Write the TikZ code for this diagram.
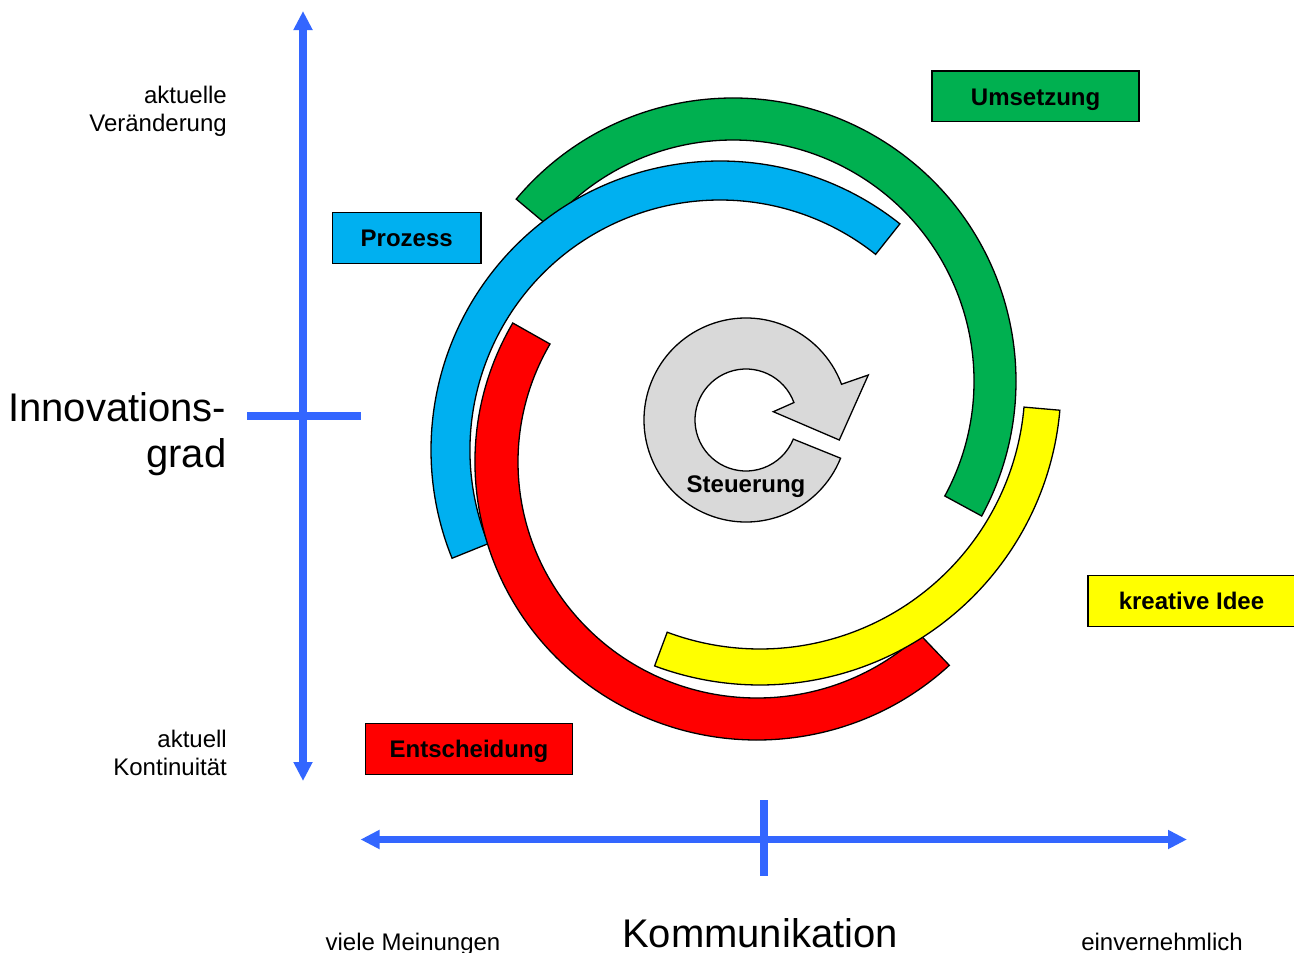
\documentclass[tikz,border=0pt]{standalone}
\usepackage{fontspec}
\setmainfont{Liberation Sans}
\usetikzlibrary{arrows.meta}
\definecolor{axisblue}{HTML}{3366FF}
\definecolor{cgreen}{HTML}{00B050}
\definecolor{cblue}{HTML}{00B0F0}
\definecolor{cred}{HTML}{FF0000}
\definecolor{cyellow}{HTML}{FFFF00}
\definecolor{cgrey}{HTML}{D9D9D9}
\begin{document}
\begin{tikzpicture}[x=1pt,y=1pt,
  arcshape/.style={draw=black, line width=1.3pt, line join=miter},
  box/.style={draw=black, line width=1.3pt, minimum width=207pt, minimum height=50.5pt, inner sep=0pt, text height=20pt, text depth=2.6pt, font=\fontsize{24}{29}\selectfont\bfseries},
  axisline/.style={draw=axisblue, line width=7.5pt},
  lbl/.style={font=\fontsize{24}{28}\selectfont, inner sep=0pt},
  biglbl/.style={font=\fontsize{40}{46}\selectfont, inner sep=0pt}]
\useasboundingbox (0,0) rectangle (1294,-953);

% axes
\coordinate (vtop) at (303,-11);
\coordinate (vbot) at (303,-781);
\coordinate (vcl) at (247,-416);
\coordinate (vcr) at (361,-416);
\draw[axisline, {Triangle[length=19pt,width=18pt]}-{Triangle[length=19pt,width=18pt]}] (vbot) -- (vtop);
\draw[axisline] (vcl) -- (vcr);
\coordinate (hl) at (360.5,-839.5);
\coordinate (hr) at (1187,-839.5);
\coordinate (hct) at (764,-800);
\coordinate (hcb) at (764,-876);
\draw[axisline, {Triangle[length=19pt,width=18pt]}-{Triangle[length=19pt,width=18pt]}] (hl) -- (hr);
\draw[axisline] (hct) -- (hcb);

% arcs
\draw[arcshape, fill=cgreen, shift={(733,-381)}] (140:283) arc[start angle=140, end angle=-28.5, radius=283] -- (-28.5:241) arc[start angle=-28.5, end angle=140, radius=241] -- cycle;
\draw[arcshape, fill=cblue, shift={(720,-450)}] (51.5:289) arc[start angle=51.5, end angle=202, radius=289] -- (202:250) arc[start angle=202, end angle=51.5, radius=250] -- cycle;
\draw[arcshape, fill=cred, shift={(757,-462)}] ({282*cos(150)},{278*sin(150)}) arc[start angle=150, end angle=313, x radius=282, y radius=278] -- ({239*cos(313)},{236*sin(313)}) arc[start angle=313, end angle=150, x radius=239, y radius=236] -- cycle;
\draw[arcshape, fill=cyellow, shift={(760,-384)}] (-5:301) arc[start angle=-5, end angle=-110.5, radius=301] -- (-110.5:265) arc[start angle=-110.5, end angle=-5, radius=265] -- cycle;

% Steuerung circular arrow
\draw[arcshape, fill=cgrey, shift={(746,-420)}] (-22:102) arc[start angle=-22, end angle=-339.5, radius=102] -- (122.3,45) -- (93.3,-20) -- (27.3,8.3) -- (-340:51) arc[start angle=-340, end angle=-22, radius=51] -- cycle;
\node[font=\fontsize{24}{29}\selectfont\bfseries, inner sep=0pt] (steu) at (746,-487) {Steuerung};

% boxes
\node[box, fill=cgreen] (ums) at (1035.6,-96.3) {Umsetzung};
\node[box, fill=cblue, minimum width=148.7pt] (proz) at (406.7,-238) {Prozess};
\node[box, fill=cyellow] (kre) at (1191.5,-601) {kreative Idee};
\node[box, fill=cred] (ent) at (469,-749) {Entscheidung};

% axis labels
\node[lbl, anchor=base east] (akt1) at (227,-103.3) {aktuelle};
\node[lbl, anchor=base east] (akt2) at (227,-131.3) {Veränderung};
\node[biglbl, anchor=base east] (inn1) at (226.5,-421.7) {Innovations-};
\node[biglbl, anchor=base east] (inn2) at (226.5,-467.3) {grad};
\node[lbl, anchor=base east] (kon1) at (227,-747.3) {aktuell};
\node[lbl, anchor=base east] (kon2) at (227,-775.3) {Kontinuität};
\node[lbl, anchor=base] (viele) at (413,-950) {viele Meinungen};
\node[biglbl, anchor=base] (komm) at (760,-947.5) {Kommunikation};
\node[lbl, anchor=base] (einv) at (1162,-950) {einvernehmlich};
\end{tikzpicture}
\end{document}
